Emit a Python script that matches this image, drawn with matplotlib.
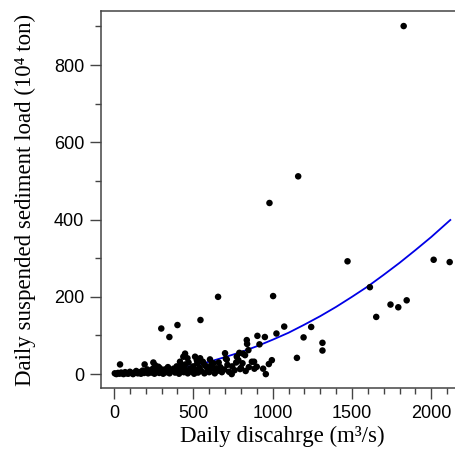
import numpy as np
import matplotlib
matplotlib.use('Agg')
import matplotlib.pyplot as plt
from matplotlib.ticker import MultipleLocator

# observed daily discharge (m3/s) and suspended sediment load (10^4 ton)
discharge = [
    5, 15, 25, 35, 45, 55, 60, 70, 80, 90, 100, 110, 120, 130, 140, 150,
    160, 170, 180, 190, 200, 210, 215, 225, 235, 245, 255, 265, 270, 285,
    290, 300, 310, 320, 330, 340, 350, 360, 375, 385, 395, 405, 410, 420,
    430, 440, 450, 455, 465, 470, 480, 490, 500, 505, 515, 525, 530, 540,
    550, 560, 570, 575, 590, 600, 605, 615, 620, 635, 650, 660, 670, 680,
    695, 705, 715, 725, 745, 760, 770, 790, 800, 810, 830, 850, 885, 940,
    38, 193, 248, 259, 280, 298, 349, 400, 416, 423, 437, 448, 463, 511,
    522, 543, 545, 564, 585, 627, 647, 656, 700, 711, 742, 774, 784, 795,
    812, 826, 837, 839, 847, 869, 883, 900, 904, 917, 951, 957, 976, 980,
    995, 1003, 1024, 1073, 1153, 1161, 1195, 1243, 1314, 1314, 1472, 1613,
    1653, 1743, 1792, 1826, 1845, 2015, 2116,
]
sediment = [
    2, 0, 3, 1, 4, 2, 0, 5, 2, 1, 6, 3, 0, 4, 8, 2,
    5, 1, 9, 3, 6, 12, 2, 8, 4, 14, 1, 10, 6, 3,
    15, 8, 1, 12, 5, 18, 2, 9, 14, 4, 20, 7, 1, 12,
    17, 5, 25, 10, 2, 30, 14, 6, 20, 1, 11, 28, 4, 16,
    8, 32, 2, 22, 12, 5, 38, 26, 15, 2, 8, 30, 18, 5,
    12, 40, 24, 6, 20, 10, 30, 55, 16, 28, 8, 18, 14, 14,
    25, 25, 30, 23, 19, 118, 96, 127, 32, 23, 45, 53, 41, 45,
    36, 41, 140, 28, 19, 28, 15, 200, 54, 38, 0, 45, 36, 13,
    53, 49, 88, 78, 62, 32, 32, 19, 99, 77, 96, 0, 26, 443,
    36, 202, 105, 123, 42, 512, 95, 122, 81, 61, 292, 225,
    148, 180, 173, 901, 191, 296, 290,
]

# fitted curve
fit_x = [0, 100, 200, 300, 400, 500, 600, 700, 800, 900, 1000, 1100,
         1200, 1300, 1400, 1500, 1600, 1700, 1800, 1900, 2000, 2120]
fit_y = [0, 0.9, 3.6, 8, 14, 22, 32, 44, 57, 72, 89, 107,
         128, 150, 174, 200, 227, 257, 288, 321, 355, 399]

serif = ['Liberation Serif', 'DejaVu Serif']

fig = plt.figure(figsize=(4.56, 4.55), dpi=100)
ax = fig.add_axes([101 / 456, 67 / 455, 362 / 456, 377 / 455])

ax.plot(fit_x, fit_y, color='#0000e6', lw=1.3, zorder=2)
ax.scatter(discharge, sediment, s=22, color='black', edgecolors='none', zorder=3)

ax.set_xlim(-82, 2200)
ax.set_ylim(-36, 940)

ax.xaxis.set_major_locator(MultipleLocator(500))
ax.xaxis.set_minor_locator(MultipleLocator(100))
ax.yaxis.set_major_locator(MultipleLocator(200))
ax.yaxis.set_minor_locator(MultipleLocator(100))

ax.spines['right'].set_visible(False)
for s in ['left', 'bottom', 'top']:
    ax.spines[s].set_color('#444444')
    ax.spines[s].set_linewidth(1.1)

ax.tick_params(which='major', length=8, width=1.0, color='#444444', pad=4,
               labelsize=13, labelfontfamily='Liberation Sans')
ax.tick_params(which='minor', length=4, width=1.0, color='#444444')

ax.set_xlabel('Daily discahrge (m\u00b3/s)', family=serif,
              fontsize=16.5, labelpad=3)
ax.set_ylabel('Daily suspended sediment load (10\u2074 ton)',
              family=serif, fontsize=16.5, labelpad=13)

fig.savefig('out.png', dpi=100)
